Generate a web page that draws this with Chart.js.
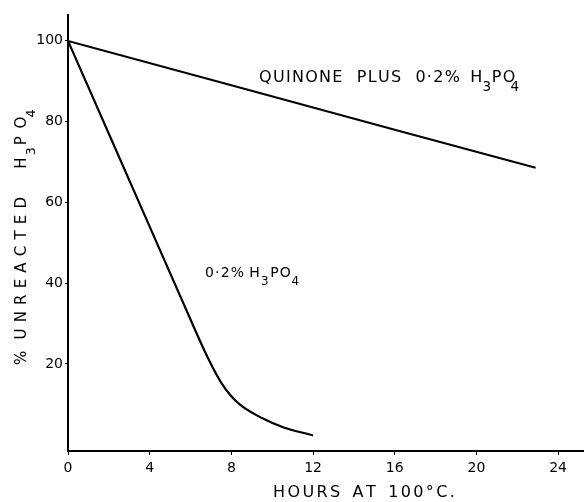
<!DOCTYPE html>
<html>
<head>
<meta charset="utf-8">
<script src="https://cdn.jsdelivr.net/npm/chart.js@4/dist/chart.umd.min.js"></script>
<style>
  body { margin: 0; background: #fff; }
  canvas { display: block; }
</style>
</head>
<body>
<canvas id="acidChart" width="584" height="502"></canvas>
<script>
// values
var quinoneHours = [0, 8, 16, 22.9];
var quinonePct = [100, 89.0, 78.0, 68.6];

var acidHours = [0, 2, 4, 6, 6.6, 7.0, 7.5, 8.0, 8.5, 9.5, 10.5, 12.0];
var acidPct = [100, 77, 54, 31, 24.2, 20.0, 15.4, 12.0, 9.6, 6.6, 4.4, 2.3];

var xTicks = [0, 4, 8, 12, 16, 20, 24];
var yTicks = [20, 40, 60, 80, 100];

function toPoints(xs, ys) {
    return xs.map(function(x, i) { return { x: x, y: ys[i] }; });
}

// hand-lettering style text: spaced capitals, dropped subscript digits
function drawRich(ctx, parts, x, y, o) {
    ctx.save();
    ctx.fillStyle = '#000';
    ctx.textAlign = 'left';
    ctx.textBaseline = 'alphabetic';
    var cx = x;
    parts.forEach(function(p) {
        if (p.gap) { cx += p.gap; return; }
        if (p.sub) {
            ctx.font = (o.size * 0.85) + 'px "DejaVu Sans"';
            cx -= (p.back || 0);
            ctx.fillText(p.t, cx, y + o.size * 0.6);
            cx += ctx.measureText(p.t).width + (p.after || 0);
            return;
        }
        ctx.font = o.size + 'px "DejaVu Sans"';
        for (var i = 0; i < p.t.length; i++) {
            var ch = p.t[i];
            if (ch === ' ') { cx += o.space; continue; }
            ctx.fillText(ch, cx, y);
            cx += ctx.measureText(ch).width + o.spacing;
        }
    });
    ctx.restore();
}

var labelsPlugin = {
    id: 'labels',
    afterDraw: function(chart) {
        var ctx = chart.ctx;
        drawRich(ctx, [{t: 'QUINONE PLUS 0·2%'}, {gap: 9}, {t: 'H'}, {t: '3', sub: true, back: 1, after: 0.5}, {t: 'PO'}, {t: '4', sub: true, back: 6}],
            259, 81.5, {size: 16, spacing: 1.3, space: 13});
        drawRich(ctx, [{t: '0·2% H'}, {t: '3', sub: true, after: 1.5}, {t: 'PO'}, {t: '4', sub: true, back: 0.5}],
            205, 277, {size: 14, spacing: 1.2, space: 4});
        drawRich(ctx, [{t: 'HOURS AT 100°C.'}], 273, 497, {size: 16, spacing: 2.4, space: 10});

        ctx.save();
        ctx.translate(26, 365);
        ctx.rotate(-Math.PI / 2);
        drawRich(ctx, [{t: '% UNREACTED'}, {gap: 22}, {t: 'H'}, {t: '3', sub: true, back: 4, after: 2}, {t: 'P'}, {gap: 1.5}, {t: 'O'}, {t: '4', sub: true, back: 7}],
            0, 0, {size: 15, spacing: 6.2, space: 5});
        ctx.restore();
    }
};

new Chart(document.getElementById('acidChart').getContext('2d'), {
    type: 'line',
    data: {
        datasets: [{
            label: 'Quinone plus 0.2% H3PO4',
            data: toPoints(quinoneHours, quinonePct),
            borderColor: '#000',
            borderWidth: 2,
            pointRadius: 0,
            fill: false
        }, {
            label: '0.2% H3PO4',
            data: toPoints(acidHours, acidPct),
            borderColor: '#000',
            borderWidth: 2.2,
            pointRadius: 0,
            cubicInterpolationMode: 'monotone',
            fill: false
        }]
    },
    options: {
        responsive: false,
        animation: false,
        layout: { padding: { top: 15, left: 0, right: 0, bottom: 0 } },
        plugins: {
            legend: { display: false },
            tooltip: { enabled: false }
        },
        scales: {
            x: {
                type: 'linear',
                min: 0,
                max: 25.27,
                afterBuildTicks: function(scale) {
                    scale.ticks = xTicks.map(function(v) { return { value: v }; });
                },
                afterFit: function(scale) { scale.height = 51; },
                grid: { drawOnChartArea: false, tickLength: 4, color: '#000', lineWidth: 1 },
                border: { color: '#000', width: 2 },
                ticks: {
                    color: '#000',
                    font: { family: 'DejaVu Sans', size: 14 },
                    padding: 5,
                    maxRotation: 0
                }
            },
            y: {
                type: 'linear',
                min: -1.55,
                max: 106.4,
                afterBuildTicks: function(scale) {
                    scale.ticks = yTicks.map(function(v) { return { value: v }; });
                },
                afterFit: function(scale) { scale.width = 68; },
                grid: { drawOnChartArea: false, tickLength: 3, color: '#000', lineWidth: 1 },
                border: { color: '#000', width: 2 },
                ticks: {
                    color: '#000',
                    font: { family: 'DejaVu Sans', size: 14 },
                    padding: 2
                }
            }
        }
    },
    plugins: [labelsPlugin]
});
</script>
</body>
</html>
